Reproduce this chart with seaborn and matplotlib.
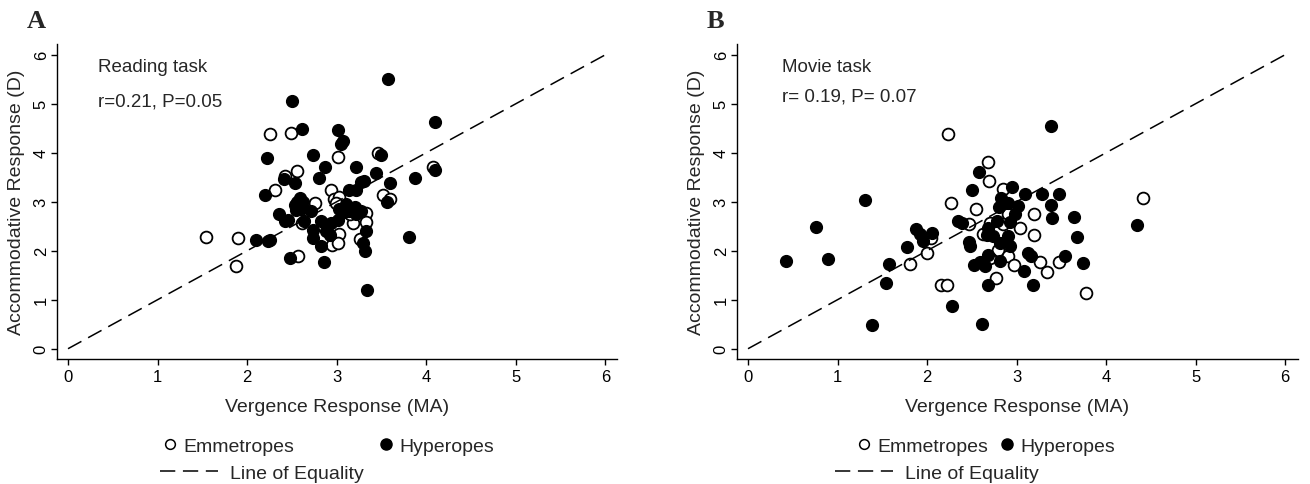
import pandas as pd
import seaborn as sns
import matplotlib.pyplot as plt
from matplotlib.lines import Line2D

# Panel A - reading task
read_emm_x = [1.54, 1.90, 1.88, 2.26, 2.49, 2.56, 2.42, 2.31, 3.02, 2.94, 2.76, 2.97, 3.03, 2.99,
              2.61, 2.57, 2.95, 3.46, 4.07, 3.52, 3.59, 3.33, 3.18, 3.33, 3.03, 3.01, 3.26, 3.15]
read_emm_y = [2.29, 2.26, 1.69, 4.38, 4.41, 3.63, 3.52, 3.24, 3.92, 3.24, 2.97, 3.05, 3.10, 2.97,
              2.57, 1.90, 2.12, 4.00, 3.71, 3.14, 3.05, 2.77, 2.57, 2.59, 2.34, 2.16, 2.23, 2.74]
read_hyp_x = [2.50, 2.61, 3.02, 3.57, 4.10, 3.07, 3.05, 2.22, 2.74, 3.49, 2.87, 3.22, 3.44, 2.80,
              2.41, 2.54, 3.31, 3.60, 3.87, 4.10, 2.20, 3.14, 3.22, 3.27, 2.59, 2.62, 2.53, 3.56,
              2.36, 2.46, 2.71, 2.64, 2.83, 2.94, 3.03, 3.14, 3.22, 3.27, 3.01, 2.74, 2.88, 2.92,
              2.74, 2.83, 3.33, 3.29, 3.32, 3.81, 2.10, 2.23, 2.25, 2.48, 2.86, 3.34, 2.56, 2.60,
              2.55, 2.42, 2.90, 3.08, 3.19, 3.10, 3.20]
read_hyp_y = [5.06, 4.48, 4.47, 5.50, 4.62, 4.23, 4.17, 3.90, 3.95, 3.95, 3.70, 3.70, 3.59, 3.49,
              3.46, 3.38, 3.42, 3.38, 3.48, 3.64, 3.14, 3.23, 3.23, 3.40, 3.07, 3.00, 2.93, 2.99,
              2.75, 2.62, 2.81, 2.60, 2.60, 2.57, 2.85, 2.81, 2.74, 2.81, 2.62, 2.43, 2.40, 2.33,
              2.26, 2.10, 2.40, 2.16, 2.00, 2.28, 2.21, 2.19, 2.22, 1.86, 1.77, 1.20, 3.00, 2.86,
              2.83, 2.61, 2.53, 2.79, 2.82, 2.95, 2.90]

# Panel B - movie task
movie_emm_x = [1.81, 2.05, 2.00, 2.16, 2.22, 2.24, 2.68, 2.69, 2.85, 2.27, 2.55, 2.91, 3.19, 3.04,
               3.19, 2.47, 2.63, 2.70, 2.85, 2.79, 2.91, 2.97, 2.70, 3.26, 3.34, 3.47, 2.77, 3.78,
               4.41]
movie_emm_y = [1.73, 2.26, 1.96, 1.30, 1.31, 4.38, 3.82, 3.43, 3.26, 2.97, 2.85, 2.74, 2.76, 2.46,
               2.33, 2.54, 2.34, 2.57, 2.54, 2.01, 1.90, 1.71, 1.85, 1.78, 1.56, 1.77, 1.44, 1.14,
               3.07]
movie_hyp_x = [1.31, 0.76, 0.43, 0.89, 1.39, 1.57, 1.54, 1.78, 1.88, 1.92, 1.96, 2.06, 3.39, 2.58,
               2.50, 2.95, 3.10, 3.28, 3.48, 3.38, 3.40, 3.64, 3.68, 3.74, 2.83, 2.91, 2.80, 3.02,
               2.98, 2.93, 2.35, 2.39, 2.78, 2.68, 2.67, 2.74, 2.90, 2.81, 2.93, 2.47, 2.48, 2.68,
               2.81, 2.53, 2.59, 2.65, 3.13, 3.16, 3.08, 3.54, 2.68, 3.18, 2.28, 2.61, 4.35]
movie_hyp_y = [3.03, 2.48, 1.80, 1.84, 0.48, 1.73, 1.35, 2.07, 2.44, 2.34, 2.20, 2.36, 4.54, 3.61,
               3.24, 3.31, 3.16, 3.15, 3.16, 2.93, 2.67, 2.69, 2.28, 1.75, 3.08, 2.98, 2.89, 2.91,
               2.74, 2.58, 2.60, 2.57, 2.60, 2.46, 2.33, 2.30, 2.30, 2.15, 2.09, 2.18, 2.09, 1.92,
               1.79, 1.71, 1.77, 1.68, 1.95, 1.90, 1.59, 1.90, 1.30, 1.30, 0.87, 0.51, 2.52]

panels = [
    ("A", "Reading task", "r=0.21, P=0.05", read_emm_x, read_emm_y, read_hyp_x, read_hyp_y),
    ("B", "Movie task", "r= 0.19, P= 0.07", movie_emm_x, movie_emm_y, movie_hyp_x, movie_hyp_y),
]

sns.set_style("ticks")
plt.rcParams["font.family"] = ["Liberation Sans", "DejaVu Sans"]

W, H = 1310, 485
fig = plt.figure(figsize=(W / 100, H / 100), dpi=100)


def fx(px):
    return px / W


def fy(py):
    return 1 - py / H


# axes boxes in pixels: (left, right) ; shared top/bottom
boxes = [(57, 617), (737, 1298)]
top, bottom = 45, 360
legend_cfg = [
    dict(x=160, colsp=4.2, line_x=160),
    dict(x=854, colsp=0.45, line_x=835),
]
dash = (10, 5)

for i, (tag, title, stat, ex, ey, hx, hy) in enumerate(panels):
    l, r = boxes[i]
    ax = fig.add_axes([fx(l), fy(bottom), (r - l) / W, (bottom - top) / H])
    df = pd.DataFrame({
        "vergence": ex + hx,
        "accom": ey + hy,
        "group": ["Emmetropes"] * len(ex) + ["Hyperopes"] * len(hx),
    })
    sns.scatterplot(data=df[df.group == "Emmetropes"], x="vergence", y="accom", ax=ax,
                    s=72, color="white", edgecolor="black", linewidth=1.3, legend=False, zorder=2)
    sns.scatterplot(data=df[df.group == "Hyperopes"], x="vergence", y="accom", ax=ax,
                    s=72, color="black", edgecolor="black", linewidth=1.0, legend=False, zorder=2)
    ax.plot([0, 6], [0, 6], color="black", lw=1.1, dashes=dash, zorder=3)

    ax.set_xlim(-0.123, 6.13 if i == 0 else 6.145)
    ax.set_ylim(-0.21, 6.22)
    ax.set_xticks(range(7))
    ax.set_yticks(range(7))
    sns.despine(ax=ax)
    ax.tick_params(axis="both", direction="out", length=4, width=1, labelsize=12, colors="black")
    ax.tick_params(axis="y", labelrotation=90, pad=2)
    for t in ax.get_yticklabels():
        t.set_va("center")
    ax.set_xlabel("Vergence Response (MA)", fontsize=14, labelpad=10)
    ax.set_ylabel("Accommodative Response (D)", fontsize=14, labelpad=6)
    for s in ("left", "bottom"):
        ax.spines[s].set_color("black")
        ax.spines[s].set_linewidth(1.0)

    fig.text(fx(l - 30), fy(22), tag, fontsize=19, fontweight="bold",
             family=["Liberation Serif", "DejaVu Serif"], va="center", ha="left")
    tx = 98 if i == 0 else 782
    fig.text(fx(tx), fy(68), title, fontsize=13.5, va="center", ha="left")
    fig.text(fx(tx), fy(102 if i == 0 else 97), stat, fontsize=13.5, va="center", ha="left")

    cfg = legend_cfg[i]
    emm_h = Line2D([], [], marker="o", ls="none", markersize=7, markerfacecolor="white",
                   markeredgecolor="black", markeredgewidth=1.1, label="Emmetropes")
    hyp_h = Line2D([], [], marker="o", ls="none", markersize=8, markerfacecolor="black",
                   markeredgecolor="black", label="Hyperopes")
    line_h = Line2D([], [], color="black", lw=1.1, dashes=dash, label="Line of Equality")
    leg1 = ax.legend(handles=[emm_h, hyp_h], ncol=2, loc="center left",
                     bbox_to_anchor=(fx(cfg["x"]), fy(447)), bbox_transform=fig.transFigure,
                     frameon=False, handlelength=1.0, handletextpad=0.2,
                     columnspacing=cfg["colsp"], borderpad=0, borderaxespad=0, fontsize=14)
    ax.add_artist(leg1)
    ax.legend(handles=[line_h], loc="center left",
              bbox_to_anchor=(fx(cfg["line_x"]), fy(474)), bbox_transform=fig.transFigure,
              frameon=False, handlelength=3.0, handletextpad=0.6,
              borderpad=0, borderaxespad=0, fontsize=14)

fig.savefig("out.png", dpi=100)
